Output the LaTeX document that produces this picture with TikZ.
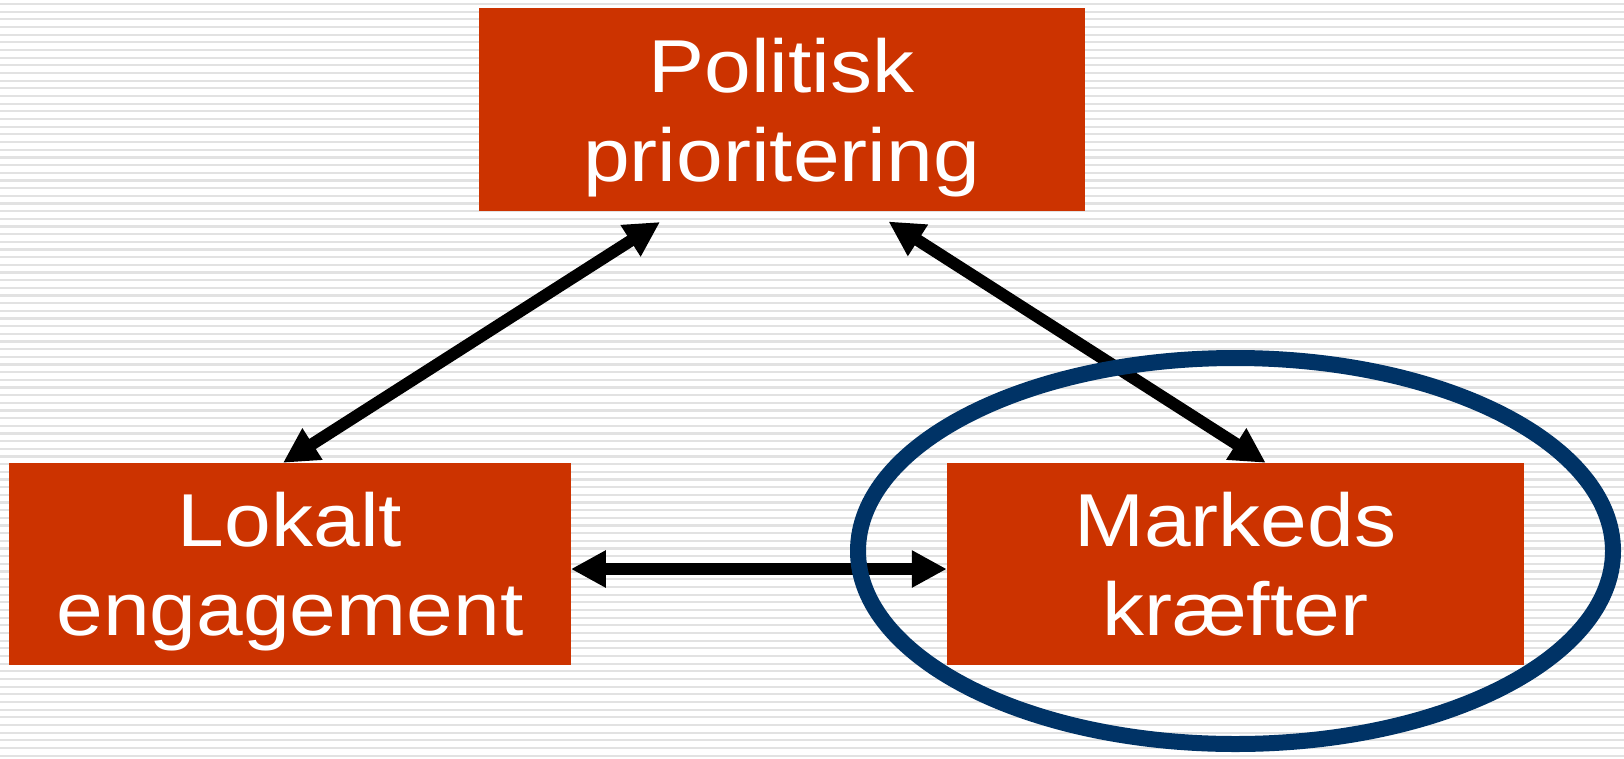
\documentclass[tikz,border=0pt]{standalone}
\usepackage{fontspec}
\usepackage{graphicx}
\setmainfont{Liberation Sans}
\usetikzlibrary{arrows.meta,shapes.geometric}
\definecolor{boxred}{HTML}{CC3300}
\definecolor{ringblue}{HTML}{003366}
\definecolor{stripegray}{HTML}{E2E2E2}
\newcommand{\wideline}[1]{\scalebox{1.12}[1]{#1}}
\tikzset{
  stripe/.style={draw=stripegray, line width=2.2pt},
  redbox/.style={rectangle, fill=boxred, text=white, inner sep=0pt, align=center,
    font=\fontsize{75}{89}\selectfont, text depth=0pt},
  conn/.style={line width=12pt, draw=black,
    {Triangle[length=35pt,width=35pt]}-{Triangle[length=35pt,width=35pt]}},
  ringstyle/.style={ellipse, draw=ringblue, line width=16pt, inner sep=0pt}
}
\begin{document}
\begin{tikzpicture}[x=1pt,y=-1pt]
\useasboundingbox (0,0) rectangle (1624,758);
\fill[white] (0,0) rectangle (1624,758);
\foreach \i in {0,...,98} {
  \draw[stripe] (0,{4+7.67*\i}) -- (1624,{4+7.67*\i});
}
\node[redbox, minimum width=606pt, minimum height=203pt] (top) at (781.5,109.8)
  {\wideline{Politisk}\\\wideline{prioritering}};
\node[redbox, minimum width=561.4pt, minimum height=202pt] (lft) at (290,564)
  {\wideline{Lokalt}\\\wideline{engagement}};
\node[redbox, minimum width=576.6pt, minimum height=202pt] (rgt) at (1235.3,564)
  {\wideline{Markeds}\\\wideline{kræfter}};
\coordinate (tl) at ([xshift=-121.5pt,yshift=-10.5pt]top.south);
\coordinate (tr) at ([xshift=107pt,yshift=-10pt]top.south);
\draw[conn] (tl) -- ([xshift=-7pt]lft.north);
\draw[conn] (tr) -- ([xshift=30.4pt]rgt.north);
\draw[conn] ([yshift=-5pt]lft.east) -- ([yshift=-5pt]rgt.west);
\node[ringstyle, minimum width=755pt, minimum height=386pt] (ring) at (1235.5,551) {};
\end{tikzpicture}
\end{document}
